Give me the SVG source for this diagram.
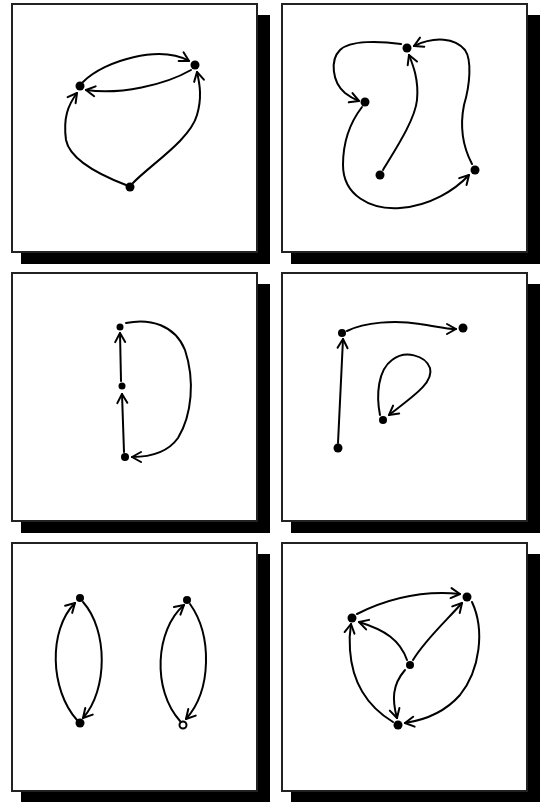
<svg xmlns="http://www.w3.org/2000/svg" width="541" height="802" viewBox="0 0 541 802">
<defs>
<marker id="arr" markerUnits="userSpaceOnUse" markerWidth="20" markerHeight="20" refX="0" refY="0" orient="auto" overflow="visible">
<path d="M-9,-5 L0,0 L-9,5" fill="none" stroke="#000" stroke-width="2" stroke-linecap="round" stroke-linejoin="round"/>
</marker>
</defs>
<style>
.shadow{fill:#000}
.panel{fill:#fff;stroke:#222;stroke-width:2}
.edge{fill:none;stroke:#000;stroke-width:2;stroke-linecap:round;marker-end:url(#arr)}
.node{fill:#000}
.hollow{fill:#fff;stroke:#000;stroke-width:2}
</style>
<rect width="541" height="802" fill="#fff"/>
<g id="frames">
<rect class="shadow" x="21" y="15" width="249" height="249"/>
<rect class="panel" x="12" y="4" width="245" height="248"/>
<rect class="shadow" x="291" y="15" width="249" height="249"/>
<rect class="panel" x="282" y="4" width="245" height="248"/>
<rect class="shadow" x="21" y="284" width="249" height="249"/>
<rect class="panel" x="12" y="273" width="245" height="248"/>
<rect class="shadow" x="291" y="284" width="249" height="249"/>
<rect class="panel" x="282" y="273" width="245" height="248"/>
<rect class="shadow" x="21" y="554" width="249" height="249"/>
<rect class="panel" x="12" y="543" width="245" height="248"/>
<rect class="shadow" x="291" y="554" width="249" height="249"/>
<rect class="panel" x="282" y="543" width="245" height="248"/>
</g>
<g id="connectors">
<path class="edge" d="M83,82 C105,60 160,45 189,61"/>
<path class="edge" d="M191,70 C165,85 120,95 86,90"/>
<path class="edge" d="M126,185 C100,175 70,160 66,140 C63,118 68,105 77,93"/>
<path class="edge" d="M133,183 C150,165 190,140 197,115 C202,98 200,85 197,72"/>
<path class="edge" d="M401,44 C380,41 350,40 340,50 C330,60 332,82 345,93 C350,97 354,99 359,101"/>
<path class="edge" d="M362,107 C352,120 343,140 343,165 C343,195 370,210 400,208 C430,206 455,190 469,175"/>
<path class="edge" d="M383,170 C395,150 415,120 417,100 C419,80 413,65 409,55"/>
<path class="edge" d="M472,164 C462,145 460,125 464,105 C470,85 472,60 465,50 C455,38 435,36 414,46"/>
<path class="edge" d="M121,381 L120,333"/>
<path class="edge" d="M124,452 L122,394"/>
<path class="edge" d="M126,323 C150,318 175,325 185,350 C195,380 192,415 178,438 C168,452 150,457 132,457"/>
<path class="edge" d="M338,443 L343,339"/>
<path class="edge" d="M347,331 C365,322 395,320 420,324 C435,326 445,329 456,329"/>
<path class="edge" d="M380,415 C376,395 378,370 392,360 C405,350 425,355 430,368 C434,382 415,395 389,415"/>
<path class="edge" d="M77,720 C50,690 48,630 75,603"/>
<path class="edge" d="M83,602 C108,630 108,690 83,718"/>
<path class="edge" d="M180,721 C152,690 155,630 184,605"/>
<path class="edge" d="M190,604 C212,635 212,690 186,719"/>
<path class="edge" d="M357,614 C385,600 420,590 460,594"/>
<path class="edge" d="M393,722 C365,705 352,680 350,650 C349,638 350,630 351,624"/>
<path class="edge" d="M472,602 C485,630 480,670 460,695 C445,712 425,720 405,723"/>
<path class="edge" d="M407,660 C400,640 385,630 359,622"/>
<path class="edge" d="M413,660 C425,640 445,622 462,603"/>
<path class="edge" d="M405,670 C392,685 392,700 397,718"/>
</g>
<g id="nodeA"><circle class="node" cx="80" cy="86" r="4.5"/></g>
<g id="nodeB"><circle class="node" cx="195" cy="65" r="4.5"/></g>
<g id="nodeC"><circle class="node" cx="130" cy="187" r="4.5"/></g>
<g id="nodeD"><circle class="node" cx="407" cy="48" r="4.5"/></g>
<g id="nodeE"><circle class="node" cx="365" cy="102" r="4.5"/></g>
<g id="nodeF"><circle class="node" cx="380" cy="175" r="4.5"/></g>
<g id="nodeG"><circle class="node" cx="475" cy="170" r="4.5"/></g>
<g id="nodeH"><circle class="node" cx="120" cy="327" r="3.5"/></g>
<g id="nodeI"><circle class="node" cx="122" cy="386" r="3.5"/></g>
<g id="nodeJ"><circle class="node" cx="125" cy="457" r="4"/></g>
<g id="nodeK"><circle class="node" cx="342" cy="333" r="4"/></g>
<g id="nodeL"><circle class="node" cx="463" cy="328" r="4.5"/></g>
<g id="nodeM"><circle class="node" cx="383" cy="420" r="4"/></g>
<g id="nodeN"><circle class="node" cx="338" cy="448" r="4.5"/></g>
<g id="nodeO"><circle class="node" cx="80" cy="598" r="4"/></g>
<g id="nodeP"><circle class="node" cx="80" cy="723" r="4.5"/></g>
<g id="nodeQ"><circle class="node" cx="187" cy="600" r="4"/></g>
<g id="nodeR"><circle class="hollow" cx="183" cy="725" r="3.5"/></g>
<g id="nodeS"><circle class="node" cx="352" cy="618" r="4.5"/></g>
<g id="nodeT"><circle class="node" cx="467" cy="597" r="4.5"/></g>
<g id="nodeU"><circle class="node" cx="410" cy="665" r="4"/></g>
<g id="nodeV"><circle class="node" cx="398" cy="725" r="4.5"/></g>
</svg>
